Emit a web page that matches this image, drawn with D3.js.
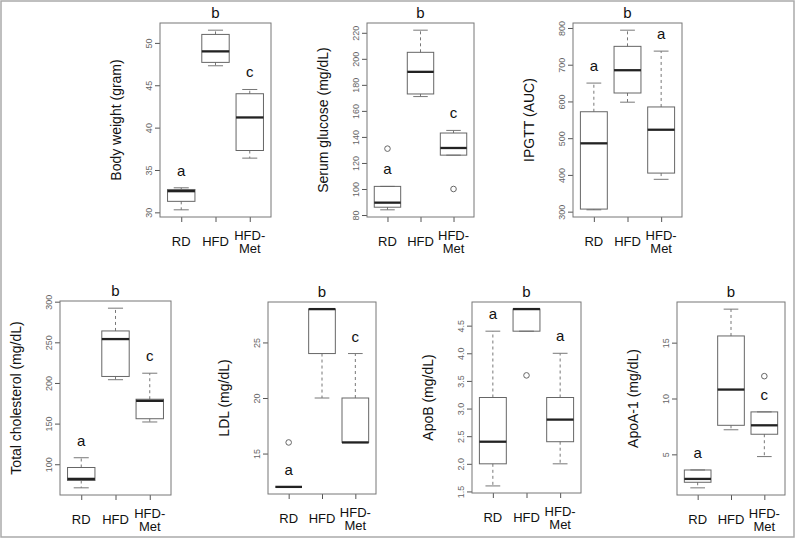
<!DOCTYPE html>
<html>
<head>
<meta charset="utf-8">
<script src="https://cdn.jsdelivr.net/npm/d3@7"></script>
<style>
  html, body { margin: 0; padding: 0; background: #fff; }
  svg { display: block; font-family: Arial, "Liberation Sans", sans-serif; }
</style>
</head>
<body>
<svg id="chart" width="796" height="539"></svg>
<script>
// ---------- DATA (five-number summaries: [lower whisker, Q1, median, Q3, upper whisker]) ----------
const groups = ["RD", "HFD", "HFD-Met"];

const bodyWeightStats = [[30.3, 31.3, 32.5, 32.7, 32.9], [47.3, 47.7, 49.0, 51.0, 51.5], [36.4, 37.3, 41.2, 44.0, 44.5]];
const bodyWeightOutliers = [[], [], []];
const bodyWeightLetters = ["a", "b", "c"];
const bodyWeightTicks = [30, 35, 40, 45, 50];

const glucoseStats = [[84, 86, 89.5, 102, 102], [171, 173, 190, 205, 222], [126, 126, 131.5, 143, 145]];
const glucoseOutliers = [[131], [], [100]];
const glucoseLetters = ["a", "b", "c"];
const glucoseTicks = [80, 100, 120, 140, 160, 180, 200, 220];

const ipgttStats = [[305, 307, 486, 572, 650], [598, 623, 685, 750, 794], [388, 405, 523, 585, 737]];
const ipgttOutliers = [[], [], []];
const ipgttLetters = ["a", "b", "a"];
const ipgttTicks = [300, 400, 500, 600, 700, 800];

const cholStats = [[71, 80, 82, 96, 108], [204, 208, 254, 264, 292], [152, 156, 178, 180, 212]];
const cholOutliers = [[], [], []];
const cholLetters = ["a", "b", "c"];
const cholTicks = [100, 150, 200, 250, 300];

const ldlStats = [[12, 12, 12, 12, 12], [20, 24, 28, 28, 28], [16, 16, 16, 20, 24]];
const ldlOutliers = [[16], [], []];
const ldlLetters = ["a", "b", "c"];
const ldlTicks = [15, 20, 25];

const apoBStats = [[1.6, 2.0, 2.4, 3.2, 4.4], [4.4, 4.4, 4.8, 4.8, 4.8], [2.0, 2.4, 2.8, 3.2, 4.0]];
const apoBOutliers = [[], [3.6], []];
const apoBLetters = ["a", "b", "a"];
const apoBTicks = [1.5, 2.0, 2.5, 3.0, 3.5, 4.0, 4.5];

const apoA1Stats = [[2.0, 2.5, 2.8, 3.6, 3.6], [7.2, 7.6, 10.8, 15.6, 18.0], [4.8, 6.8, 7.6, 8.8, 8.8]];
const apoA1Outliers = [[], [], [12]];
const apoA1Letters = ["a", "b", "c"];
const apoA1Ticks = [5, 10, 15];

// ---------- LAYOUT ----------
const panels = [
  { title: "Body weight (gram)", stats: bodyWeightStats, out: bodyWeightOutliers, letters: bodyWeightLetters, ticks: bodyWeightTicks, fmt: d3.format("d"), l: 160, t: 23, r: 271, b: 217 },
  { title: "Serum glucose (mg/dL)", stats: glucoseStats, out: glucoseOutliers, letters: glucoseLetters, ticks: glucoseTicks, fmt: d3.format("d"), l: 367, t: 23, r: 474, b: 217 },
  { title: "IPGTT (AUC)", stats: ipgttStats, out: ipgttOutliers, letters: ipgttLetters, ticks: ipgttTicks, fmt: d3.format("d"), l: 573, t: 23, r: 682, b: 217 },
  { title: "Total cholesterol (mg/dL)", stats: cholStats, out: cholOutliers, letters: cholLetters, ticks: cholTicks, fmt: d3.format("d"), l: 60, t: 301, r: 171, b: 495 },
  { title: "LDL (mg/dL)", stats: ldlStats, out: ldlOutliers, letters: ldlLetters, ticks: ldlTicks, fmt: d3.format("d"), l: 268, t: 302, r: 376, b: 494 },
  { title: "ApoB (mg/dL)", stats: apoBStats, out: apoBOutliers, letters: apoBLetters, ticks: apoBTicks, fmt: d3.format(".1f"), l: 472, t: 302, r: 581, b: 493 },
  { title: "ApoA-1 (mg/dL)", stats: apoA1Stats, out: apoA1Outliers, letters: apoA1Letters, ticks: apoA1Ticks, fmt: d3.format("d"), l: 677, t: 302, r: 785, b: 495 }
];

const svg = d3.select("#chart");

// outer frame
svg.append("rect").attr("x", 1).attr("y", 1).attr("width", 793).attr("height", 536)
  .attr("fill", "none").attr("stroke", "#aaa").attr("stroke-width", 1.5);

const boxStroke = "#666", whiskStroke = "#777", medStroke = "#222";

panels.forEach(p => {
  const g = svg.append("g");
  const n = groups.length;
  const x = d3.scaleLinear().domain([0.5 - 0.04 * n, n + 0.5 + 0.04 * n]).range([p.l, p.r]);
  const allVals = p.stats.flat().concat(p.out.flat());
  const lo = d3.min(allVals), hi = d3.max(allVals), rg = hi - lo;
  const y = d3.scaleLinear().domain([lo - 0.04 * rg, hi + 0.04 * rg]).range([p.b, p.t]);
  const unit = x(2) - x(1);
  const bw = 0.4 * unit, sw = 0.22 * unit;

  // y axis
  const ya = g.append("g").attr("transform", `translate(${p.l},0)`)
    .call(d3.axisLeft(y).tickValues(p.ticks).tickSize(5).tickFormat(p.fmt));
  ya.select(".domain").remove();
  ya.selectAll(".tick line").attr("stroke", "#555");
  ya.selectAll(".tick text")
    .attr("transform", "rotate(-90)").attr("x", 0).attr("y", -8).attr("dy", 0)
    .attr("text-anchor", "middle").attr("fill", "#666").style("font-size", "9px")
    .style("font-family", "Arial, 'Liberation Sans', sans-serif");

  // x axis
  const xa = g.append("g").attr("transform", `translate(0,${p.b})`)
    .call(d3.axisBottom(x).tickValues(d3.range(1, n + 1)).tickSize(5).tickFormat(""));
  xa.select(".domain").remove();
  xa.selectAll(".tick line").attr("stroke", "#555");
  groups.forEach((name, i) => {
    const lines = name.includes("-") ? [name.split("-")[0] + "-", name.split("-")[1]] : [name];
    const t = g.append("text").attr("text-anchor", "middle")
      .style("font-size", "13px").attr("fill", "#111");
    if (lines.length === 1) {
      t.append("tspan").attr("x", x(i + 1)).attr("y", p.b + 28.5).text(lines[0]);
    } else {
      t.append("tspan").attr("x", x(i + 1)).attr("y", p.b + 22.5).text(lines[0]);
      t.append("tspan").attr("x", x(i + 1)).attr("y", p.b + 36).text(lines[1]);
    }
  });

  // frame
  g.append("rect").attr("x", p.l).attr("y", p.t).attr("width", p.r - p.l).attr("height", p.b - p.t)
    .attr("fill", "none").attr("stroke", "#777").attr("stroke-width", 1);

  // boxes
  p.stats.forEach((s, i) => {
    const cx = x(i + 1);
    const [wl, q1, md, q3, wh] = s;
    if (wh > q3) g.append("line").attr("x1", cx).attr("x2", cx).attr("y1", y(q3)).attr("y2", y(wh))
      .attr("stroke", whiskStroke).attr("stroke-dasharray", "3,3");
    if (wl < q1) g.append("line").attr("x1", cx).attr("x2", cx).attr("y1", y(q1)).attr("y2", y(wl))
      .attr("stroke", whiskStroke).attr("stroke-dasharray", "3,3");
    [wl, wh].forEach(v => g.append("line").attr("x1", cx - sw).attr("x2", cx + sw)
      .attr("y1", y(v)).attr("y2", y(v)).attr("stroke", whiskStroke));
    g.append("rect").attr("x", cx - bw).attr("y", y(q3)).attr("width", 2 * bw)
      .attr("height", Math.max(0, y(q1) - y(q3))).attr("fill", "none").attr("stroke", boxStroke);
    g.append("line").attr("x1", cx - bw).attr("x2", cx + bw).attr("y1", y(md)).attr("y2", y(md))
      .attr("stroke", medStroke).attr("stroke-width", 2.3);
    p.out[i].forEach(v => g.append("circle").attr("cx", cx).attr("cy", y(v)).attr("r", 2.8)
      .attr("fill", "none").attr("stroke", "#666"));
    g.append("text").attr("x", cx).attr("y", y(wh) - 12).attr("text-anchor", "middle")
      .style("font-size", "15px").attr("fill", "#111").text(p.letters[i]);
  });

  // y title
  g.append("text").attr("transform", `translate(${p.l - 39},${(p.t + p.b) / 2}) rotate(-90)`)
    .attr("text-anchor", "middle").style("font-size", "14px").attr("fill", "#111").text(p.title);
});
</script>
</body>
</html>
